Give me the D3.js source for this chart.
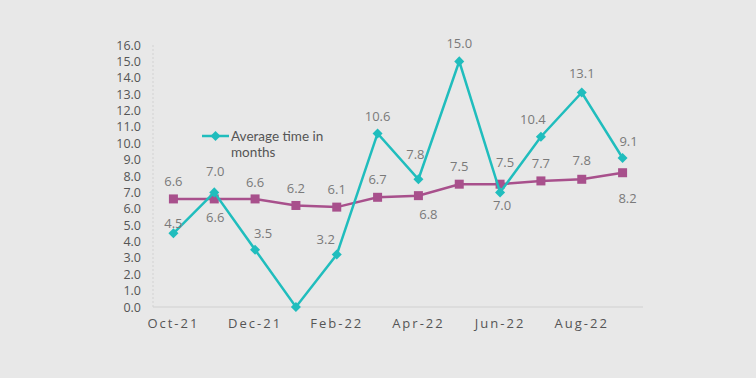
<!DOCTYPE html>
<html lang="en">
<head>
    <meta charset="UTF-8">
    <title>Average time in months</title>
    <script src="https://d3js.org/d3.v7.min.js"></script>
    <style>
        body { margin: 0; background: #e8e8e8; }
        svg { display: block; font-family: 'Open Sans', sans-serif; }
    </style>
</head>
<body>
    <svg width="756" height="378"></svg>
    <script>
        const months = ["Oct-21", "Nov-21", "Dec-21", "Jan-22", "Feb-22", "Mar-22", "Apr-22", "May-22", "Jun-22", "Jul-22", "Aug-22", "Sep-22"];
        const avgTime = [4.5, 7.0, 3.5, 0.0, 3.2, 10.6, 7.8, 15.0, 7.0, 10.4, 13.1, 9.1];
        const trend = [6.6, 6.6, 6.6, 6.2, 6.1, 6.7, 6.8, 7.5, 7.5, 7.7, 7.8, 8.2];
        const yTicks = d3.range(0, 17, 1);
        const xTickLabels = ["Oct-21", "Dec-21", "Feb-22", "Apr-22", "Jun-22", "Aug-22"];

        // label offsets (dx, dy) relative to each point
        const avgOffsets = [[0,-10],[1,-21],[8,-16],null,[-11,-15],[0,-17],[-3,-25],[0,-18],[2,13],[-8,-17],[0,-19],[6,-16]];
        const trendOffsets = [[0,-17],[1,19],[0,-16],[0,-17],[0,-18],[0,-18],[10,19],[0,-18],[5,-22],[0,-17],[0,-19],[5,26]];

        const svg = d3.select("svg");
        const plotLeft = 153, plotRight = 643, plotTop = 45, plotBottom = 307;

        const x = d3.scaleBand().domain(months).range([plotLeft, plotRight]);
        const y = d3.scaleLinear().domain([0, 16]).range([plotBottom, plotTop]);
        const cx = d => x(d) + x.bandwidth() / 2;

        // y axis (dashed light line) with labels
        svg.append("line")
            .attr("x1", plotLeft).attr("x2", plotLeft)
            .attr("y1", plotTop).attr("y2", plotBottom)
            .attr("stroke", "#d2d2d2").attr("stroke-dasharray", "2,2");

        svg.append("g").selectAll("text")
            .data(yTicks).enter().append("text")
            .attr("x", 141)
            .attr("y", d => y(d) + 4.5)
            .attr("text-anchor", "end")
            .attr("font-size", 12.5)
            .attr("fill", "#555")
            .text(d => d.toFixed(1));

        // x axis
        svg.append("line")
            .attr("x1", plotLeft).attr("x2", plotRight)
            .attr("y1", plotBottom).attr("y2", plotBottom)
            .attr("stroke", "#d0d0d0");

        svg.append("g").selectAll("text")
            .data(xTickLabels).enter().append("text")
            .attr("x", d => cx(d))
            .attr("y", 328)
            .attr("text-anchor", "middle")
            .attr("font-size", 13)
            .attr("letter-spacing", "2px")
            .attr("fill", "#555")
            .text(d => d);

        const line = d3.line().x((d, i) => cx(months[i])).y(d => y(d));

        // trend series (purple squares)
        svg.append("path")
            .datum(trend)
            .attr("d", line)
            .attr("fill", "none")
            .attr("stroke", "#a8508c")
            .attr("stroke-width", 2.5);

        svg.append("g").selectAll("rect")
            .data(trend).enter().append("rect")
            .attr("x", (d, i) => cx(months[i]) - 4.5)
            .attr("y", d => y(d) - 4.5)
            .attr("width", 9).attr("height", 9)
            .attr("fill", "#a8508c");

        // average time series (teal diamonds)
        svg.append("path")
            .datum(avgTime)
            .attr("d", line)
            .attr("fill", "none")
            .attr("stroke", "#20bdbd")
            .attr("stroke-width", 2.5);

        const diamond = d3.symbol().type(d3.symbolDiamond2).size(64);
        svg.append("g").selectAll("path")
            .data(avgTime).enter().append("path")
            .attr("d", diamond)
            .attr("transform", (d, i) => `translate(${cx(months[i])},${y(d)})`)
            .attr("fill", "#20bdbd");

        // data labels
        [[avgTime, avgOffsets], [trend, trendOffsets]].forEach(([vals, offs]) => {
            const g = svg.append("g");
            vals.forEach((v, i) => {
                if (!offs[i]) return;
                g.append("text")
                    .attr("x", cx(months[i]) + offs[i][0])
                    .attr("y", y(v) + offs[i][1] + 4.5)
                    .attr("text-anchor", "middle")
                    .attr("font-size", 13)
                    .attr("fill", "#7a7a7a")
                    .text(v.toFixed(1));
            });
        });

        // legend
        const lg = svg.append("g");
        lg.append("line")
            .attr("x1", 202).attr("x2", 229)
            .attr("y1", 136).attr("y2", 136)
            .attr("stroke", "#20bdbd").attr("stroke-width", 2.5);
        lg.append("path")
            .attr("d", diamond)
            .attr("transform", "translate(215.5,136)")
            .attr("fill", "#20bdbd");
        const lt = lg.append("text")
            .attr("font-family", "Lato, sans-serif")
            .attr("font-size", 13.5)
            .attr("fill", "#555");
        lt.append("tspan").attr("x", 231).attr("y", 140.5).text("Average time in");
        lt.append("tspan").attr("x", 231).attr("y", 157).text("months");
    </script>
</body>
</html>
